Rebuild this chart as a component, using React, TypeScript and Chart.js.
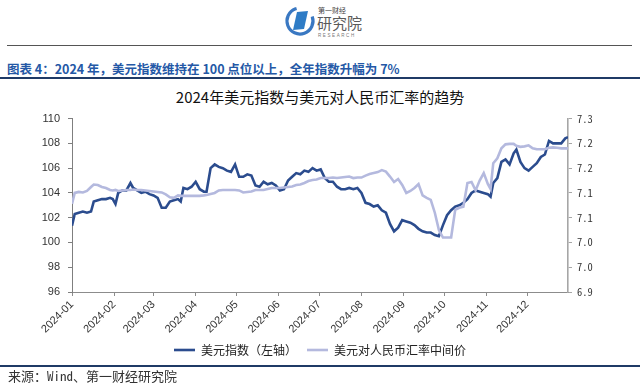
import React, { useEffect, useRef } from 'react';
import { Chart, registerables } from 'chart.js';

Chart.register(...registerables);

// ---- data ----
const dates = [
  '2024-01-01', '2024-01-03', '2024-01-06', '2024-01-09', '2024-01-12', '2024-01-15', '2024-01-17', '2024-01-20',
  '2024-01-23', '2024-01-26', '2024-01-29', '2024-01-31', '2024-02-02', '2024-02-04', '2024-02-07', '2024-02-10',
  '2024-02-13', '2024-02-15', '2024-02-18', '2024-02-21', '2024-02-24', '2024-02-27', '2024-03-01', '2024-03-04',
  '2024-03-07', '2024-03-10', '2024-03-13', '2024-03-16', '2024-03-19', '2024-03-21', '2024-03-23', '2024-03-26',
  '2024-03-29', '2024-04-01', '2024-04-04', '2024-04-07', '2024-04-09', '2024-04-12', '2024-04-15', '2024-04-18',
  '2024-04-21', '2024-04-24', '2024-04-27', '2024-04-30', '2024-05-03', '2024-05-06', '2024-05-09', '2024-05-12',
  '2024-05-15', '2024-05-18', '2024-05-21', '2024-05-24', '2024-05-27', '2024-05-30', '2024-06-02', '2024-06-05',
  '2024-06-08', '2024-06-11', '2024-06-14', '2024-06-17', '2024-06-20', '2024-06-23', '2024-06-26', '2024-06-29',
  '2024-07-02', '2024-07-05', '2024-07-08', '2024-07-11', '2024-07-14', '2024-07-17', '2024-07-20', '2024-07-23',
  '2024-07-26', '2024-07-29', '2024-08-01', '2024-08-04', '2024-08-07', '2024-08-10', '2024-08-13', '2024-08-16',
  '2024-08-19', '2024-08-22', '2024-08-25', '2024-08-28', '2024-08-31', '2024-09-03', '2024-09-06', '2024-09-09',
  '2024-09-12', '2024-09-15', '2024-09-18', '2024-09-21', '2024-09-24', '2024-09-27', '2024-09-30', '2024-10-03',
  '2024-10-06', '2024-10-09', '2024-10-12', '2024-10-15', '2024-10-18', '2024-10-21', '2024-10-24', '2024-10-27',
  '2024-10-30', '2024-11-02', '2024-11-04', '2024-11-06', '2024-11-09', '2024-11-12', '2024-11-15', '2024-11-18',
  '2024-11-21', '2024-11-23', '2024-11-26', '2024-11-29', '2024-12-02', '2024-12-05', '2024-12-08', '2024-12-11',
  '2024-12-14', '2024-12-17', '2024-12-20', '2024-12-23', '2024-12-26', '2024-12-29', '2024-12-31',
];

// 美元指数（左轴）
const usdIndex = [
  101.35, 102.3, 102.4, 102.5, 102.4, 102.5, 103.3, 103.4,
  103.5, 103.5, 103.6, 103.5, 103.1, 104.0, 104.2, 104.2,
  104.8, 104.4, 104.2, 104.0, 104.1, 103.9, 103.8, 103.6,
  102.8, 102.8, 103.3, 103.4, 103.5, 103.3, 104.4, 104.3,
  104.5, 104.9, 104.3, 104.1, 104.1, 106.0, 106.3, 106.1,
  106.0, 105.8, 105.7, 106.3, 105.3, 105.3, 105.5, 105.4,
  104.6, 104.5, 104.9, 104.7, 104.8, 104.6, 104.2, 104.3,
  105.0, 105.3, 105.6, 105.5, 105.8, 105.7, 106.0, 105.8,
  105.9, 105.2, 104.9, 104.9, 104.5, 104.3, 104.3, 104.4,
  104.3, 104.4, 104.0, 103.2, 103.1, 102.9, 103.0, 102.6,
  102.4, 101.5, 100.9, 101.2, 101.8, 101.7, 101.6, 101.4,
  101.1, 100.9, 100.8, 100.8, 100.6, 100.5, 101.4, 102.2,
  102.6, 102.9, 103.0, 103.2, 103.5, 104.0, 104.2, 104.1,
  104.0, 103.9, 103.7, 104.8, 105.2, 106.5, 106.7, 106.3,
  107.2, 107.5, 106.5, 106.0, 105.8, 106.1, 106.4, 106.9,
  107.1, 108.2, 108.0, 108.0, 108.0, 108.4, 108.5,
];

// 美元对人民币汇率中间价（右轴）
const usdCny = [
  7.078, 7.100, 7.102, 7.101, 7.104, 7.112, 7.117, 7.116,
  7.112, 7.110, 7.106, 7.105, 7.106, 7.104, 7.105, 7.106,
  7.106, 7.107, 7.106, 7.106, 7.105, 7.104, 7.103, 7.102,
  7.101, 7.097, 7.091, 7.090, 7.095, 7.094, 7.094, 7.094,
  7.094, 7.094, 7.094, 7.095, 7.096, 7.098, 7.100, 7.105,
  7.106, 7.106, 7.106, 7.106, 7.105, 7.101, 7.102, 7.103,
  7.106, 7.106, 7.106, 7.108, 7.110, 7.110, 7.110, 7.111,
  7.112, 7.113, 7.116, 7.117, 7.120, 7.124, 7.126, 7.127,
  7.130, 7.130, 7.130, 7.131, 7.130, 7.131, 7.132, 7.133,
  7.130, 7.131, 7.131, 7.135, 7.138, 7.140, 7.142, 7.146,
  7.143, 7.133, 7.122, 7.128, 7.116, 7.100, 7.104, 7.110,
  7.118, 7.095, 7.090, 7.086, 7.060, 7.025, 7.010, 7.010,
  7.010, 7.066, 7.070, 7.072, 7.120, 7.122, 7.105, 7.125,
  7.140, 7.118, 7.108, 7.160, 7.170, 7.190, 7.198, 7.199,
  7.199, 7.195, 7.193, 7.194, 7.196, 7.190, 7.188, 7.188,
  7.188, 7.191, 7.192, 7.191, 7.190, 7.190, 7.190,
];

const monthLabels = [
  '2024-01', '2024-02', '2024-03', '2024-04', '2024-05', '2024-06',
  '2024-07', '2024-08', '2024-09', '2024-10', '2024-11', '2024-12',
];

const leftRange = { min: 96, max: 110, step: 2 };
const rightRange = { min: 6.9, max: 7.25, step: 0.05 };

const seriesNames = ['美元指数（左轴）', '美元对人民币汇率中间价'];
const chartTitle = '2024年美元指数与美元对人民币汇率的趋势';
const figureCaption = '图表 4：2024 年，美元指数维持在 100 点位以上，全年指数升幅为 7%';
const sourceNote = '来源：Wind、第一财经研究院';

function dayIndex(s: string): number {
  const [y, m, d] = s.split('-').map(Number);
  return (Date.UTC(y, m - 1, d) - Date.UTC(2024, 0, 1)) / 86400000;
}

const CJK = "'Noto Sans CJK SC', 'Noto Sans', sans-serif";

function ChartCanvas() {
  const ref = useRef<HTMLCanvasElement | null>(null);
  useEffect(() => {
    if (!ref.current) return;
    const monthTickValues = monthLabels.map((m) => dayIndex(m + '-01'));
    const chart = new Chart(ref.current, {
      type: 'line',
      data: {
        datasets: [
          {
            label: seriesNames[0],
            data: dates.map((d, i) => ({ x: dayIndex(d), y: usdIndex[i] })),
            yAxisID: 'yL',
            borderColor: '#2B4C8E',
            backgroundColor: '#2B4C8E',
            borderWidth: 2.6,
            pointRadius: 0,
            tension: 0,
            order: 2,
          },
          {
            label: seriesNames[1],
            data: dates.map((d, i) => ({ x: dayIndex(d), y: usdCny[i] })),
            yAxisID: 'yR',
            borderColor: '#B4B9DE',
            backgroundColor: '#B4B9DE',
            borderWidth: 2.6,
            pointRadius: 0,
            tension: 0,
            order: 1,
          },
        ],
      },
      options: {
        animation: false,
        responsive: false,
        maintainAspectRatio: false,
        devicePixelRatio: 1,
        layout: { padding: { top: 13, left: 0, right: 0, bottom: 0 } },
        plugins: {
          title: { display: false },
          tooltip: { enabled: false },
          legend: {
            position: 'bottom',
            labels: {
              usePointStyle: true,
              pointStyle: 'line',
              pointStyleWidth: 21,
              padding: 10,
              color: '#222',
              font: { family: CJK, size: 12 },
              sort: (a: any, b: any) => a.datasetIndex - b.datasetIndex,
            },
          },
        },
        scales: {
          x: {
            type: 'linear',
            min: 0,
            max: 365,
            afterBuildTicks: (scale: any) => {
              scale.ticks = monthTickValues.map((v) => ({ value: v }));
            },
            afterFit: (scale: any) => {
              scale.height = 42;
            },
            ticks: {
              autoSkip: false,
              minRotation: 45,
              maxRotation: 45,
              padding: 2,
              color: '#333',
              font: { family: "'Liberation Sans', Arial, sans-serif", size: 11 },
              callback: (_v: any, i: number) => monthLabels[i],
            },
            grid: { display: true, drawOnChartArea: false, drawTicks: true, tickLength: 4, color: '#8c8c8c' },
            border: { display: true, color: '#8c8c8c', width: 1 },
          },
          yL: {
            type: 'linear',
            position: 'left',
            min: leftRange.min,
            max: leftRange.max,
            afterFit: (scale: any) => {
              scale.width = 72;
            },
            ticks: {
              stepSize: leftRange.step,
              padding: 8,
              color: '#333',
              font: { family: "'Liberation Sans', Arial, sans-serif", size: 11 },
            },
            grid: { display: true, drawOnChartArea: false, drawTicks: true, tickLength: 4, color: '#7f7f7f' },
            border: { display: true, color: '#7f7f7f', width: 1 },
          },
          yR: {
            type: 'linear',
            position: 'right',
            min: rightRange.min,
            max: rightRange.max,
            afterFit: (scale: any) => {
              scale.width = 72;
            },
            ticks: {
              stepSize: rightRange.step,
              padding: 5,
              color: '#333',
              font: { family: "'Noto Sans Mono CJK SC', 'Liberation Mono', monospace", size: 10.5 },
              callback: (v: any) => (Math.floor(Number(v) * 10 + 0.5 + 1e-7) / 10).toFixed(1),
            },
            grid: { display: true, drawOnChartArea: false, drawTicks: true, tickLength: 4, color: '#a6a6a6' },
            border: { display: true, color: '#a6a6a6', width: 1.6 },
          },
        },
      },
    });
    return () => chart.destroy();
  }, []);
  return (
    <canvas
      ref={ref}
      width={640}
      height={262}
      style={{ position: 'absolute', left: 0, top: 104, width: 640, height: 262 }}
    />
  );
}

function Logo() {
  return (
    <svg width={90} height={42} style={{ position: 'absolute', left: 282, top: 2 }}>
      <circle cx={18} cy={19} r={13} fill="none" stroke="#3A78C2" strokeWidth={3.2} strokeDasharray="62 20" transform="rotate(-20 18 19)" />
      <polygon points="11,28 15,10 26,9 22,27" fill="#2E7CC6" />
      <text x={36} y={11} fontSize={7} fill="#444" fontFamily={CJK}>第一财经</text>
      <text x={35} y={27} fontSize={15} fill="#5a5a5a" fontFamily={CJK}>研究院</text>
      <text x={36} y={35} fontSize={4.5} fill="#777" letterSpacing={1.6} fontFamily="'Liberation Sans', sans-serif">RESEARCH</text>
    </svg>
  );
}

export default function App() {
  return (
    <div style={{ position: 'fixed', left: 0, top: 0, width: 640, height: 389, background: '#fff', overflow: 'hidden' }}>
      <Logo />
      <div style={{ position: 'absolute', left: 7, right: 8, top: 45, height: 1, background: '#555' }} />
      <div
        style={{
          position: 'absolute', left: 7, top: 61, fontFamily: CJK, fontWeight: 700, fontSize: 12.5,
          color: '#2458A6', whiteSpace: 'nowrap', lineHeight: '16px',
        }}
      >
        {figureCaption}
      </div>
      <div style={{ position: 'absolute', left: 0, right: 0, top: 77, height: 2, background: '#1F3A66' }} />
      <div
        style={{
          position: 'absolute', left: 0, width: 640, top: 87, textAlign: 'center', fontFamily: CJK,
          fontSize: 15, color: '#111', lineHeight: '20px', whiteSpace: 'nowrap',
        }}
      >
        {chartTitle}
      </div>
      <ChartCanvas />
      <div style={{ position: 'absolute', left: 0, right: 0, top: 365, height: 2, background: '#1F3A66', zIndex: 2 }} />
      <div
        style={{
          position: 'absolute', left: 8, top: 368, fontFamily: "'Noto Sans Mono CJK SC', 'Liberation Mono', 'Noto Sans CJK SC', monospace",
          fontSize: 13, color: '#333', lineHeight: '16px', whiteSpace: 'nowrap', zIndex: 2,
        }}
      >
        {sourceNote}
      </div>
    </div>
  );
}
